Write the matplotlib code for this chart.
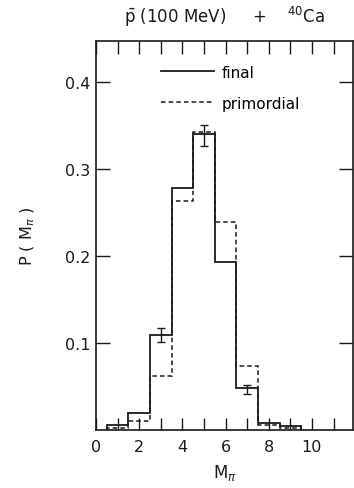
import numpy as np
import matplotlib.pyplot as plt

# pion multiplicity distribution, bins centred on 1..9
edges = [0.5, 1.5, 2.5, 3.5, 4.5, 5.5, 6.5, 7.5, 8.5, 9.5]
final = [0.006, 0.020, 0.110, 0.278, 0.340, 0.194, 0.049, 0.009, 0.005]
primordial = [0.003, 0.011, 0.063, 0.263, 0.343, 0.240, 0.074, 0.006, 0.003]

# error bars on the final distribution
err_x = [3, 5, 7]
err_y = [0.110, 0.339, 0.047]
err_size = [0.008, 0.012, 0.005]

ink = "#1a1a1a"
plt.rcParams["font.family"] = ["DejaVu Sans"]

fig = plt.figure(figsize=(3.54, 4.89), dpi=100)
ax = fig.add_axes([0.271, 0.1176, 0.726, 0.796])

ax.stairs(final, edges, color=ink, lw=1.3, label="final")
ax.stairs(primordial, edges, color=ink, lw=1.1, ls=(0, (3, 2)), label="primordial")
ax.errorbar(err_x, err_y, yerr=err_size, fmt="none", ecolor=ink, elinewidth=1.0, capsize=3)

ax.set_xlim(0, 11.9)
ax.set_ylim(0, 0.447)
ax.set_xticks([0, 2, 4, 6, 8, 10])
ax.set_xticks([1, 3, 5, 7, 9, 11], minor=True)
ax.set_yticks([0.1, 0.2, 0.3, 0.4])
ax.set_yticklabels(["0.1", "0.2", "0.3", "0.4"])
ax.tick_params(which="both", direction="in", top=True, right=True,
               color=ink, labelsize=11.5, labelcolor=ink, width=1.0)
ax.tick_params(axis="x", which="both", length=9, pad=6)
ax.tick_params(axis="y", which="major", length=10, pad=4)
for s in ax.spines.values():
    s.set_color(ink)
    s.set_linewidth(1.2)

ax.set_xlabel(r"M$_{\pi}$", fontsize=12, color=ink, labelpad=6)
ax.set_ylabel(r"P ( M$_{\pi}$ )", fontsize=11.5, color=ink, labelpad=20)
ax.set_title(r"$\bar{\mathrm{p}}$ (100 MeV)     +    $^{40}$Ca", fontsize=12, color=ink, pad=14)

ax.legend(loc="upper left", bbox_to_anchor=(0.253, 0.94), frameon=False, borderpad=0,
          borderaxespad=0, fontsize=11, handlelength=3.5, handletextpad=0.45,
          labelspacing=1.05)

fig.savefig("out.png", dpi=100)
